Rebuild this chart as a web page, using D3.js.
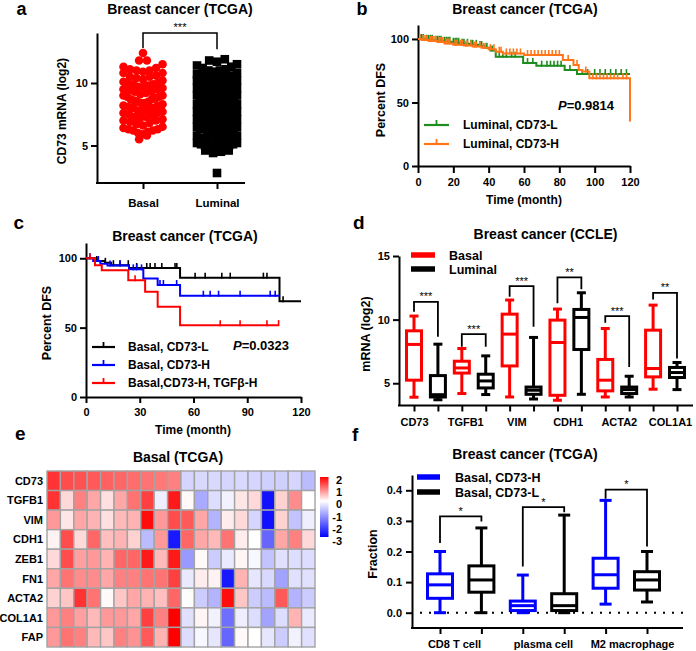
<!DOCTYPE html>
<html><head><meta charset="utf-8">
<script src="https://cdn.jsdelivr.net/npm/d3@7/dist/d3.min.js"></script>
<style>html,body{margin:0;padding:0;background:#fff;}svg{display:block;}</style>
</head><body>
<svg id="fig" width="696" height="651"></svg>
<script>
// ================= DATA =================
// Panel a
const aGroups = ["Basal", "Luminal"];
const aTicks = [5, 10];
const basalCD73 = [12.4, 11.8, 11.8, 11.5, 11.3, 11.2, 11.1, 11.0, 11.0, 10.9, 10.8, 10.8, 10.6, 10.5, 10.5, 10.4, 10.3, 10.2, 10.1, 10.0, 10.0, 9.9, 9.9, 9.8, 9.7, 9.7, 9.6, 9.5, 9.5, 9.4, 9.3, 9.3, 9.2, 9.1, 9.0, 9.0, 8.9, 8.9, 8.8, 8.7, 8.7, 8.6, 8.5, 8.5, 8.4, 8.4, 8.3, 8.2, 8.2, 8.1, 8.0, 8.0, 7.9, 7.8, 7.8, 7.7, 7.6, 7.6, 7.5, 7.4, 7.3, 7.3, 7.2, 7.1, 7.0, 7.0, 6.9, 6.8, 6.7, 6.6, 6.5, 6.4, 6.3, 6.3, 6.2, 6.2, 6.1, 6.0, 5.9, 5.8, 5.5];
const luminalCD73 = [2.8, 4.4, 4.5, 4.6, 4.6, 4.7, 4.8, 4.9, 4.9, 5.0, 5.0, 5.0, 5.1, 5.1, 5.2, 5.2, 5.3, 5.4, 5.5, 5.5, 5.6, 5.7, 5.8, 5.8, 5.9, 6.0, 6.0, 6.1, 6.1, 6.2, 6.2, 6.3, 6.3, 6.4, 6.4, 6.5, 6.5, 6.6, 6.6, 6.7, 6.7, 6.8, 6.8, 6.9, 6.9, 7.0, 7.0, 7.0, 7.1, 7.1, 7.2, 7.2, 7.3, 7.3, 7.4, 7.4, 7.5, 7.5, 7.5, 7.6, 7.6, 7.7, 7.7, 7.8, 7.8, 7.9, 7.9, 8.0, 8.0, 8.0, 8.1, 8.1, 8.2, 8.2, 8.3, 8.3, 8.4, 8.4, 8.5, 8.5, 8.5, 8.6, 8.6, 8.7, 8.7, 8.8, 8.8, 8.9, 8.9, 9.0, 9.0, 9.1, 9.1, 9.2, 9.2, 9.3, 9.3, 9.4, 9.4, 9.5, 9.5, 9.6, 9.6, 9.7, 9.7, 9.8, 9.8, 9.9, 9.9, 10.0, 10.0, 10.1, 10.1, 10.2, 10.2, 10.3, 10.4, 10.4, 10.5, 10.6, 10.6, 10.7, 10.8, 10.9, 11.0, 11.0, 11.1, 11.2, 11.3, 11.4, 11.5, 11.7, 11.8, 11.9];
const aSig = "***";

// Panel b (Kaplan-Meier, luminal)
const bTicksX = [0, 20, 40, 60, 80, 100, 120];
const kmTicksY = [0, 50, 100];
const lumLowSteps = [[0,100],[4,99.3],[9,98.6],[14,97.8],[19,97],[24,96.2],[29,95.4],[34,94.5],[38,93],[41,91],[44,86],[59.5,81],[67,79],[83,75.6],[90,72.4]];
const lumLowEnd = 120;
const lumLowCensor = [1,2,3,5,6,7,8,10,11,12,13,15,16,17,18,20,21,22,23,25,26,28,30,31,33,35,36,39,42,46,48,50,53,55,62,65,70,73,75,77,79,81,86,93,96,100,103,106,109,112,115,118];
const lumHighSteps = [[0,100],[2,99.2],[6,98.4],[11,97.6],[15,96.5],[20,95.5],[26,94.8],[31,94],[36,93],[40,92],[44,90],[48,88.6],[60,87.4],[82,83.5],[88,79.5],[91,75.6],[93,74.4],[97,69],[120,35]];
const lumHighEnd = 120;
const lumHighCensor = [1,3,4,5,7,8,9,10,12,13,14,16,17,18,21,22,24,25,27,28,30,32,33,35,37,38,41,43,46,47,50,52,54,56,58,62,64,66,68,70,72,74,76,78,80,85,90,95,99,101,103,105,107,109,111,113,116,118];
const bLegend = ["Luminal, CD73-L", "Luminal, CD73-H"];
const bP = "0.9814";

// Panel c (Kaplan-Meier, basal)
const cTicksX = [0, 30, 60, 90, 120];
const basLowSteps = [[0,100],[6,98],[10.6,96.7],[14,95],[24,93],[52.5,86],[108,69]];
const basLowEnd = 120;
const basLowCensor = [6,10.8,15.3,19,23.6,28.3,33.9,35.8,38.5,42.3,49.7,50.7,60.9,66.5,75.8,80.5,99,101,110];
const basHighSteps = [[0,100],[4,98],[8,96],[12,94.8],[24,92],[32,85.5],[40,80.7],[52.5,73]];
const basHighEnd = 108;
const basHighCensor = [2.2,6.9,13.4,19,26.4,28.3,31,41.3,43.2,50.6,65.5,69.3,74,86,102.8,105.6];
const basTgfSteps = [[0,100],[5,95],[8.8,91.4],[23.6,84.2],[33,75.8],[40,65],[52.5,51.8]];
const basTgfEnd = 107.5;
const basTgfCensor = [2.2,27.4,74.9,86,101,107.5];
const cLegend = ["Basal, CD73-L", "Basal, CD73-H", "Basal,CD73-H, TGFβ-H"];
const cP = "0.0323";

// Panel d (box plots, CCLE)
const dGenes = ["CD73", "TGFB1", "VIM", "CDH1", "ACTA2", "COL1A1"];
const dTicksY = [5, 10, 15];
// [min, q1, median, q3, max]
const dBasal = [[3.9,5.24,8.05,9.12,10.28],[4.19,5.8,6.2,6.73,7.73],[3.92,6.36,8.86,10.43,11.54],[3.66,4.05,8.2,9.96,10.83],[3.92,4.4,5.24,6.87,9.3],[4.53,5.5,6.16,9.17,11.14]];
const dLuminal = [[3.7,3.92,4.1,5.6,8.07],[4.11,4.63,5.18,5.71,7.15],[3.76,4.13,4.45,4.7,8.6],[4.13,7.65,10.17,10.8,12.11],[3.92,4.19,4.5,4.7,5.55],[4.5,5.45,5.84,6.24,6.63]];
const dSig = ["***", "***", "***", "**", "***", "**"];
// [bracket top, left leg end, right leg end]
const dBrackets = [[11.4,10.61,8.65],[8.86,7.86,7.86],[12.64,11.8,9.43],[13.32,11.28,12.38],[10.28,9.75,6.28],[12.1,11.59,6.94]];
const dLegend = ["Basal", "Luminal"];

// Panel e (heatmap)
const eGenes = ["CD73", "TGFB1", "VIM", "CDH1", "ZEB1", "FN1", "ACTA2", "COL1A1", "FAP"];
const eSamples = ["S1","S2","S3","S4","S5","S6","S7","S8","S9","S10","S11","S12","S13","S14","S15","S16","S17","S18","S19","S20"];
const eValues = [
  [1.6,1.4,1.35,1.3,1.25,1.2,1.15,1.1,1.05,1.0,-0.5,-0.45,-0.45,-0.5,-0.45,-0.5,-0.55,-0.55,-0.5,-0.8],
  [1.6,0.3,1.0,0.7,0.25,0.7,1.1,1.5,-0.2,1.8,0.05,-1.0,-0.4,-0.15,0.2,0.3,-2.8,0.35,0.9,0],
  [0.8,0.2,0.7,0.6,0.25,0.55,0.6,1.9,0.8,1.4,1.3,0.7,-0.9,0.15,0.3,-0.5,-2.8,0.35,-0.7,-0.2],
  [0.1,1.4,0.3,1.2,0.5,0.6,0.35,-0.8,0.8,-2.7,1.2,0.7,0.55,1.1,0.15,0,-1.8,0.7,1.0,0.3],
  [0.3,1.4,0.75,0.8,0.6,1.2,1.2,1.8,0.55,1.8,-1.2,0.05,-0.6,-0.25,0.08,-0.1,-0.7,-0.35,-0.4,-0.4],
  [0.7,1.1,0.9,0.9,0.7,1.0,1.0,1.1,1.1,1.5,-0.25,0.15,0.1,-2.7,0.6,-0.3,-0.45,-1.1,-0.35,-0.35],
  [0.35,0.45,1.6,1.1,0.05,0.45,0.7,0.6,0.5,1.2,0.02,-0.6,-0.9,1.9,0.45,-0.6,-0.8,1.3,-0.9,-0.6],
  [0.8,1.0,0.75,0.55,0.8,0.8,0.7,1.5,1.0,2.0,-0.35,0.08,-0.15,-1.7,-0.2,-0.4,-1.1,-0.4,0.6,-0.25],
  [0.8,1.1,1.0,0.55,0.45,1.0,0.85,1.3,0.6,2.0,-0.4,-0.1,-0.3,-1.8,0.05,0,-0.3,-0.6,-0.15,-0.35]
];
const eLegendTicks = [2, 1, 0, -1, -2, -3];

// Panel f (box plots, immune fractions)
const fCells = ["CD8 T cell", "plasma cell", "M2 macrophage"];
const fTicksY = [0, 0.1, 0.2, 0.3, 0.4];
const fHigh = [[0.0,0.047,0.091,0.127,0.2],[0.0,0.007,0.023,0.038,0.123],[0.028,0.08,0.124,0.178,0.367]];
const fLow = [[0.0,0.067,0.107,0.153,0.277],[0.0,0.007,0.023,0.062,0.319],[0.035,0.074,0.107,0.134,0.2]];
const fSig = ["*", "*", "*"];
const fBrackets = [[0.315,0.228,0.298],[0.345,0.151,0.328],[0.402,0.372,0.216]];
const fLegend = ["Basal, CD73-H", "Basal, CD73-L"];

// ================= DRAWING =================
const FONT = '"Liberation Sans", Arial, Helvetica, sans-serif';
const svg = d3.select("#fig").style("font-family", FONT);
svg.append("rect").attr("width", 696).attr("height", 651).attr("fill", "#fff");

function txt(g, x, y, s, o = {}) {
  const t = g.append("text").attr("x", x).attr("y", y).text(s)
    .attr("font-size", o.size || 12).attr("font-weight", o.weight || "bold")
    .attr("text-anchor", o.anchor || "start").attr("fill", o.fill || "#000");
  if (o.dy) t.attr("dy", o.dy);
  if (o.rotate) t.attr("transform", `rotate(-90,${x},${y})`);
  return t;
}
function styleAxis(g, fs = 11) {
  g.selectAll("path.domain").attr("stroke", "#000").attr("stroke-width", 2);
  g.selectAll(".tick line").attr("stroke", "#000").attr("stroke-width", 2);
  g.selectAll(".tick text").attr("font-size", fs).attr("font-weight", "bold").attr("font-family", FONT).attr("fill", "#000");
}
function hline(g, x1, x2, y, w = 2, color = "#000") {
  g.append("line").attr("x1", x1).attr("x2", x2).attr("y1", y).attr("y2", y).attr("stroke", color).attr("stroke-width", w);
}

// ---------- Panel a ----------
{
  const g = svg.append("g");
  txt(g, 16.5, 14.5, "a", { size: 18 });
  txt(g, 180, 14, "Breast cancer (TCGA)", { size: 14, anchor: "middle" });
  const y = d3.scaleLinear().domain([2, 14]).range([183, 33]);
  const x = d3.scalePoint().domain(aGroups).range([143, 217]);
  const ya = g.append("g").attr("transform", "translate(97,0)")
    .call(d3.axisLeft(y).tickValues(aTicks).tickSize(6).tickSizeOuter(0).tickPadding(3).tickFormat(d3.format("d")));
  styleAxis(ya);
  hline(g, 96, 245, 183);
  const xa = g.append("g").attr("transform", "translate(0,183)")
    .call(d3.axisBottom(x).tickSize(6).tickPadding(10));
  xa.select("path.domain").remove();
  styleAxis(xa, 11.5);
  txt(g, 62, 111, "CD73 mRNA (log2)", { size: 12, anchor: "middle", rotate: true, dy: "0.35em" });

  function swarm(vals, markerPx, maxSpan) {
    const sorted = vals.slice().sort((a, b) => a - b);
    const bins = d3.groups(sorted, v => Math.floor((y(v) - 33) / markerPx));
    const pts = [];
    bins.forEach(([k, arr]) => {
      const n = arr.length;
      const sp = n > 1 ? Math.min(markerPx, maxSpan / (n - 1)) : 0;
      const slots = d3.range(n).map(i => (i - (n - 1) / 2) * sp).sort((a, b) => Math.abs(a) - Math.abs(b) || a - b);
      arr.forEach((v, i) => pts.push({ v, dx: slots[i] }));
    });
    return pts;
  }
  const bp = swarm(basalCD73, 7.8, 39);
  g.selectAll(null).data(bp).join("circle")
    .attr("cx", d => x("Basal") + d.dx).attr("cy", d => y(d.v)).attr("r", 4.3).attr("fill", "#ff0000");
  const lp = swarm(luminalCD73, 7.8, 40);
  g.selectAll(null).data(lp).join("rect")
    .attr("x", d => x("Luminal") + d.dx - 4.3).attr("y", d => y(d.v) - 4.3).attr("width", 8.6).attr("height", 8.6).attr("fill", "#000");
  // significance bracket
  g.append("path").attr("d", `M${x("Basal")},${y(12.8)}V${y(14)}H${x("Luminal")}V${y(12.7)}`)
    .attr("fill", "none").attr("stroke", "#000").attr("stroke-width", 1.5);
  txt(g, (x("Basal") + x("Luminal")) / 2, y(14) - 2, aSig, { size: 11, anchor: "middle", weight: "normal" });
}

// ---------- KM helper ----------
function km(g, steps, end, censor, color, x, y) {
  const pts = steps.concat([[end, steps[steps.length - 1][1]]]);
  g.append("path").attr("d", d3.line().x(d => x(d[0])).y(d => y(d[1])).curve(d3.curveStepAfter)(pts))
    .attr("fill", "none").attr("stroke", color).attr("stroke-width", 2);
  const survAt = t => { let s = steps[0][1]; for (const [tt, ss] of steps) { if (tt <= t) s = ss; } return s; };
  g.selectAll(null).data(censor).join("line")
    .attr("x1", d => x(d)).attr("x2", d => x(d))
    .attr("y1", d => y(survAt(d)) + 1).attr("y2", d => y(survAt(d)) - 5)
    .attr("stroke", color).attr("stroke-width", 1.6);
}
function kmLegend(g, x1, x2, yy, color, label, tx) {
  hline(g, x1, x2, yy, 2.2, color);
  g.append("line").attr("x1", (x1 + x2) / 2).attr("x2", (x1 + x2) / 2).attr("y1", yy).attr("y2", yy - 5)
    .attr("stroke", color).attr("stroke-width", 1.8);
  txt(g, tx, yy, label, { size: 12, dy: "0.36em" });
}
function pText(g, x, yy, val) {
  const t = g.append("text").attr("x", x).attr("y", yy).attr("dy", "0.36em")
    .attr("font-size", 13).attr("font-weight", "bold").attr("fill", "#000");
  t.append("tspan").attr("font-style", "italic").text("P");
  t.append("tspan").text("=" + val);
}

// ---------- Panel b ----------
{
  const g = svg.append("g");
  txt(g, 356.5, 14.5, "b", { size: 18 });
  txt(g, 525, 14, "Breast cancer (TCGA)", { size: 14, anchor: "middle" });
  const x = d3.scaleLinear().domain([0, 120]).range([418, 630]);
  const y = d3.scaleLinear().domain([0, 111]).range([166, 25]);
  const ya = g.append("g").attr("transform", "translate(418,0)")
    .call(d3.axisLeft(y).tickValues(kmTicksY).tickSize(6).tickSizeOuter(0).tickPadding(3));
  styleAxis(ya);
  const xa = g.append("g").attr("transform", "translate(0,166)")
    .call(d3.axisBottom(x).tickValues(bTicksX).tickSize(7).tickSizeOuter(0).tickPadding(5));
  styleAxis(xa);
  txt(g, 380.5, 100, "Percent DFS", { size: 12.5, anchor: "middle", rotate: true, dy: "0.35em" });
  txt(g, 524, 204, "Time (month)", { size: 12, anchor: "middle" });
  km(g, lumLowSteps, lumLowEnd, lumLowCensor, "#1f8c1f", x, y);
  km(g, lumHighSteps, lumHighEnd, lumHighCensor, "#ff7518", x, y);
  kmLegend(g, 424, 449, 125, "#1f8c1f", bLegend[0], 463);
  kmLegend(g, 424, 449, 144, "#ff7518", bLegend[1], 463);
  pText(g, 558, 105, bP);
}

// ---------- Panel c ----------
{
  const g = svg.append("g");
  txt(g, 13.5, 229, "c", { size: 19 });
  txt(g, 185, 240.5, "Breast cancer (TCGA)", { size: 14, anchor: "middle" });
  const x = d3.scaleLinear().domain([0, 120]).range([86, 301]);
  const y = d3.scaleLinear().domain([0, 111]).range([397, 243]);
  const ya = g.append("g").attr("transform", "translate(86,0)")
    .call(d3.axisLeft(y).tickValues(kmTicksY).tickSize(6).tickSizeOuter(0).tickPadding(3));
  styleAxis(ya);
  const xa = g.append("g").attr("transform", "translate(0,397)")
    .call(d3.axisBottom(x).tickValues(cTicksX).tickSize(6).tickSizeOuter(0).tickPadding(5));
  styleAxis(xa);
  txt(g, 47, 323, "Percent DFS", { size: 12.5, anchor: "middle", rotate: true, dy: "0.35em" });
  txt(g, 193, 434, "Time (month)", { size: 12, anchor: "middle" });
  km(g, basLowSteps, basLowEnd, basLowCensor, "#000000", x, y);
  km(g, basHighSteps, basHighEnd, basHighCensor, "#0000ff", x, y);
  km(g, basTgfSteps, basTgfEnd, basTgfCensor, "#ff0000", x, y);
  kmLegend(g, 92, 115, 347, "#000000", cLegend[0], 128);
  kmLegend(g, 92, 115, 365, "#0000ff", cLegend[1], 128);
  kmLegend(g, 92, 115, 383, "#ff0000", cLegend[2], 128);
  pText(g, 233, 345, cP);
}

// ---------- Box helper ----------
function boxPlot(g, cx, s, color, w, capW, y, lw) {
  const line = (x1, x2, y1, y2) => g.append("line").attr("x1", x1).attr("x2", x2).attr("y1", y1).attr("y2", y2)
    .attr("stroke", color).attr("stroke-width", lw);
  line(cx, cx, y(s[0]), y(s[1]));
  line(cx, cx, y(s[3]), y(s[4]));
  line(cx - capW / 2, cx + capW / 2, y(s[0]), y(s[0]));
  line(cx - capW / 2, cx + capW / 2, y(s[4]), y(s[4]));
  g.append("rect").attr("x", cx - w / 2).attr("y", y(s[3])).attr("width", w).attr("height", Math.max(0.5, y(s[1]) - y(s[3])))
    .attr("fill", "#fff").attr("stroke", color).attr("stroke-width", lw);
  line(cx - w / 2, cx + w / 2, y(s[2]), y(s[2]));
}
function bracket(g, xl, xr, b, y, sig, fs) {
  g.append("path").attr("d", `M${xl},${y(b[1])}V${y(b[0])}H${xr}V${y(b[2])}`)
    .attr("fill", "none").attr("stroke", "#000").attr("stroke-width", 1.8);
  txt(g, (xl + xr) / 2, y(b[0]) - 1.5, sig, { size: fs, anchor: "middle", weight: "normal" });
}

// ---------- Panel d ----------
{
  const g = svg.append("g");
  txt(g, 353, 229, "d", { size: 19 });
  txt(g, 545.5, 239.3, "Breast cancer (CCLE)", { size: 14, anchor: "middle" });
  const keys = dGenes.flatMap(gn => [gn + "_B", gn + "_L"]);
  const xb = d3.scalePoint().domain(keys).range([414, 677]);
  const xl = d3.scalePoint().domain(dGenes).range([414, 670]);
  const y = d3.scaleLinear().domain([3.25, 15]).range([405.5, 256]);
  const ya = g.append("g").attr("transform", "translate(399,0)")
    .call(d3.axisLeft(y).tickValues(dTicksY).tickSize(6).tickSizeOuter(0).tickPadding(3));
  styleAxis(ya);
  hline(g, 398, 693, 405.5);
  const xt = g.append("g").attr("transform", "translate(0,405.5)")
    .call(d3.axisBottom(xb).tickSize(6).tickFormat(""));
  xt.select("path.domain").remove();
  styleAxis(xt);
  const xlab = g.append("g").attr("transform", "translate(0,405.5)")
    .call(d3.axisBottom(xl).tickSize(0).tickPadding(13));
  xlab.select("path.domain").remove();
  styleAxis(xlab, 11);
  txt(g, 366, 334, "mRNA (log2)", { size: 12.5, anchor: "middle", rotate: true, dy: "0.35em" });
  dGenes.forEach((gn, i) => {
    boxPlot(g, xb(gn + "_B"), dBasal[i], "#ff0000", 15, 9, y, 3);
    boxPlot(g, xb(gn + "_L"), dLuminal[i], "#000000", 15, 9, y, 3);
    bracket(g, xb(gn + "_B"), xb(gn + "_L"), dBrackets[i], y, dSig[i], 11);
  });
  hline(g, 411, 435, 255, 5.5, "#ff0000");
  hline(g, 411, 435, 269, 5.5, "#000000");
  txt(g, 449, 255, dLegend[0], { size: 12.5, dy: "0.36em" });
  txt(g, 449, 269, dLegend[1], { size: 12.5, dy: "0.36em" });
}

// ---------- Panel e ----------
{
  const g = svg.append("g");
  txt(g, 15, 440, "e", { size: 19 });
  txt(g, 178, 461.5, "Basal (TCGA)", { size: 14, anchor: "middle" });
  const x = d3.scaleBand().domain(eSamples).range([47, 315]);
  const y = d3.scaleBand().domain(eGenes).range([471, 647]);
  const color = d3.scaleLinear().domain([-3, 0, 2]).range(["#0000ff", "#ffffff", "#ff0000"]).clamp(true);
  const cells = [];
  eGenes.forEach((gn, r) => eSamples.forEach((s, c) => cells.push({ gn, s, v: eValues[r][c] })));
  g.selectAll(null).data(cells).join("rect")
    .attr("x", d => x(d.s)).attr("y", d => y(d.gn)).attr("width", x.bandwidth()).attr("height", y.bandwidth())
    .attr("fill", d => color(d.v)).attr("stroke", "#a3a3a3").attr("stroke-width", 1.4);
  g.selectAll(null).data(eGenes).join("text")
    .attr("x", 43).attr("y", d => y(d) + y.bandwidth() / 2).attr("dy", "0.36em")
    .attr("text-anchor", "end").attr("font-size", 11).attr("font-weight", "bold").text(d => d);
  // color legend
  const defs = svg.append("defs");
  const grad = defs.append("linearGradient").attr("id", "hmgrad").attr("x1", 0).attr("x2", 0).attr("y1", 0).attr("y2", 1);
  const ly = d3.scaleLinear().domain([2, -3]).range([480, 541]);
  const barTop = 477, barBot = 537;
  [2, 1, 0, -1, -2, -3].forEach(v => grad.append("stop").attr("offset", (2 - v) / 5).attr("stop-color", color(v)));
  g.append("rect").attr("x", 320).attr("y", barTop).attr("width", 8.5).attr("height", barBot - barTop).attr("fill", "url(#hmgrad)");
  g.selectAll(null).data(eLegendTicks).join("text")
    .attr("x", 342).attr("y", d => ly(d)).attr("dy", "0.36em").attr("text-anchor", "end")
    .attr("font-size", 11).attr("font-weight", "bold").text(d => d);
}

// ---------- Panel f ----------
{
  const g = svg.append("g");
  txt(g, 352, 441, "f", { size: 19 });
  txt(g, 525, 459, "Breast cancer (TCGA)", { size: 14, anchor: "middle" });
  const keys = fCells.flatMap(c => [c + "_H", c + "_L"]);
  const xb = d3.scalePoint().domain(keys).range([440, 647]);
  const xl = d3.scalePoint().domain(fCells).range([454, 632]);
  const y = d3.scaleLinear().domain([-0.05, 0.45]).range([628, 475]);
  const ya = g.append("g").attr("transform", "translate(412,0)")
    .call(d3.axisLeft(y).tickValues(fTicksY).tickSize(6).tickSizeOuter(0).tickPadding(4).tickFormat(d3.format(".1f")));
  styleAxis(ya);
  hline(g, 411, 683, 628);
  const xt = g.append("g").attr("transform", "translate(0,628)")
    .call(d3.axisBottom(xb).tickSize(6).tickFormat(""));
  xt.select("path.domain").remove();
  styleAxis(xt);
  const xlab = g.append("g").attr("transform", "translate(0,628)")
    .call(d3.axisBottom(xl).tickSize(0).tickPadding(12.5));
  xlab.select("path.domain").remove();
  styleAxis(xlab, 11);
  // dotted zero line
  g.append("line").attr("x1", 420).attr("x2", 683).attr("y1", y(0)).attr("y2", y(0))
    .attr("stroke", "#000").attr("stroke-width", 2).attr("stroke-dasharray", "2,7");
  txt(g, 373, 554, "Fraction", { size: 12.5, anchor: "middle", rotate: true, dy: "0.35em" });
  fCells.forEach((c, i) => {
    boxPlot(g, xb(c + "_H"), fHigh[i], "#0000ff", 25, 12, y, 3);
    boxPlot(g, xb(c + "_L"), fLow[i], "#000000", 25, 12, y, 3);
    bracket(g, xb(c + "_H"), xb(c + "_L"), fBrackets[i], y, fSig[i], 11);
  });
  hline(g, 417, 440, 477, 5.5, "#0000ff");
  hline(g, 417, 440, 492, 5.5, "#000000");
  txt(g, 455, 477, fLegend[0], { size: 12.5, dy: "0.36em" });
  txt(g, 455, 492, fLegend[1], { size: 12.5, dy: "0.36em" });
}
</script>
</body></html>
